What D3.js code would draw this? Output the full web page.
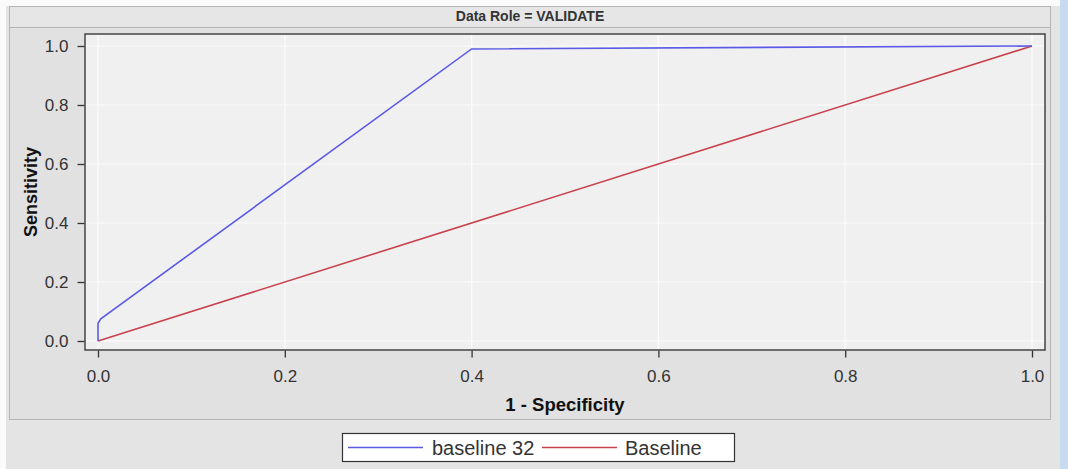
<!DOCTYPE html>
<html>
<head>
<meta charset="utf-8">
<script src="https://cdn.jsdelivr.net/npm/d3@7"></script>
<style>
  body { margin: 0; background: #fbfbfb; }
  svg { display: block; font-family: "Liberation Sans", Arial, sans-serif; }
</style>
</head>
<body>
<svg id="chart" width="1068" height="469"></svg>
<script>
// datos
var rocX = [0, 0, 0.003, 0.4, 1];
var rocY = [0, 0.06, 0.075, 0.99, 1];
var baseX = [0, 1];
var baseY = [0, 1];
var ticks = [0, 0.2, 0.4, 0.6, 0.8, 1.0];
var seriesNames = ["baseline 32", "Baseline"];
var seriesColors = ["#5a5ae6", "#c8424e"];

var svg = d3.select("#chart");

// fondo gris y panel
svg.append("rect").attr("x", 6).attr("y", 0).attr("width", 1054).attr("height", 469).attr("fill", "#e4e4e4");
svg.append("rect").attr("x", 1060).attr("y", 0).attr("width", 8).attr("height", 469).attr("fill", "#c6dbef");
svg.append("rect").attr("x", 0).attr("y", 0).attr("width", 1060).attr("height", 6).attr("fill", "#fbfbfb");
svg.append("rect").attr("x", 9.5).attr("y", 6.5).attr("width", 1041).attr("height", 413)
    .attr("fill", "#e1e1e1").attr("stroke", "#b4b4b4");
svg.append("rect").attr("x", 10).attr("y", 7).attr("width", 1040).attr("height", 20).attr("fill", "#e6e6e6");
svg.append("line").attr("x1", 10).attr("x2", 1050).attr("y1", 27.5).attr("y2", 27.5).attr("stroke", "#b4b4b4");

svg.append("text").attr("x", 530).attr("y", 21).attr("text-anchor", "middle")
    .style("font-size", "14px").style("font-weight", "bold").attr("fill", "#333")
    .text("Data Role = VALIDATE");

var margin = {left: 85, top: 34, right: 1045, bottom: 350};
var x = d3.scaleLinear().domain([0, 1]).range([98, 1032]);
var y = d3.scaleLinear().domain([0, 1]).range([341, 46]);

// area del grafico
svg.append("rect").attr("x", margin.left).attr("y", margin.top)
    .attr("width", margin.right - margin.left).attr("height", margin.bottom - margin.top)
    .attr("fill", "#f0f0f0");

// rejilla
svg.append("g").selectAll("line").data(ticks).enter().append("line")
    .attr("x1", function(d) { return x(d); }).attr("x2", function(d) { return x(d); })
    .attr("y1", margin.top).attr("y2", margin.bottom)
    .attr("stroke", "#fcfcfc").attr("stroke-width", 1.2);
svg.append("g").selectAll("line").data(ticks).enter().append("line")
    .attr("y1", function(d) { return y(d); }).attr("y2", function(d) { return y(d); })
    .attr("x1", margin.left).attr("x2", margin.right)
    .attr("stroke", "#fcfcfc").attr("stroke-width", 1.2);

// lineas
var line = d3.line().x(function(d) { return x(d[0]); }).y(function(d) { return y(d[1]); });
var series = [d3.zip(baseX, baseY), d3.zip(rocX, rocY)];
svg.append("path").datum(series[0]).attr("d", line).attr("fill", "none")
    .attr("stroke", seriesColors[1]).attr("stroke-width", 1.6);
svg.append("path").datum(series[1]).attr("d", line).attr("fill", "none")
    .attr("stroke", seriesColors[0]).attr("stroke-width", 1.6);

// borde
svg.append("rect").attr("x", margin.left).attr("y", margin.top)
    .attr("width", margin.right - margin.left).attr("height", margin.bottom - margin.top)
    .attr("fill", "none").attr("stroke", "#444").attr("stroke-width", 1.5);

// ejes
var xAxis = d3.axisBottom(x).tickValues(ticks).tickFormat(d3.format(".1f")).tickSizeInner(7).tickSizeOuter(0).tickPadding(12);
var yAxis = d3.axisLeft(y).tickValues(ticks).tickFormat(d3.format(".1f")).tickSizeInner(7).tickSizeOuter(0).tickPadding(9);

var gx = svg.append("g").attr("transform", "translate(0," + (margin.bottom + 0.5) + ")").call(xAxis);
var gy = svg.append("g").attr("transform", "translate(" + (margin.left - 0.5) + ",0)").call(yAxis);
[gx, gy].forEach(function(g) {
  g.attr("font-family", null).attr("font-size", null);
  g.select(".domain").remove();
  g.selectAll("line").attr("stroke", "#333").attr("stroke-width", 1.3);
  g.selectAll("text").style("font-size", "17px").attr("fill", "#333");
});

svg.append("text").attr("x", 565).attr("y", 411).attr("text-anchor", "middle")
    .style("font-size", "18.5px").style("font-weight", "bold").attr("fill", "#111")
    .text("1 - Specificity");
svg.append("text").attr("transform", "translate(37,192) rotate(-90)").attr("text-anchor", "middle")
    .style("font-size", "18px").style("font-weight", "bold").attr("fill", "#111")
    .text("Sensitivity");

// leyenda
var lg = svg.append("g");
lg.append("rect").attr("x", 342.5).attr("y", 433.5).attr("width", 392).attr("height", 28)
    .attr("fill", "#ffffff").attr("stroke", "#333").attr("stroke-width", 1.2);
var legendItems = [{x: 348, tx: 432}, {x: 542, tx: 625}];
legendItems.forEach(function(it, i) {
  lg.append("line").attr("x1", it.x).attr("x2", it.x + 75).attr("y1", 447.5).attr("y2", 447.5)
      .attr("stroke", seriesColors[i]).attr("stroke-width", 1.5);
  lg.append("text").attr("x", it.tx).attr("y", 454.5).style("font-size", "20px").attr("fill", "#333")
      .text(seriesNames[i]);
});
</script>
</body>
</html>
